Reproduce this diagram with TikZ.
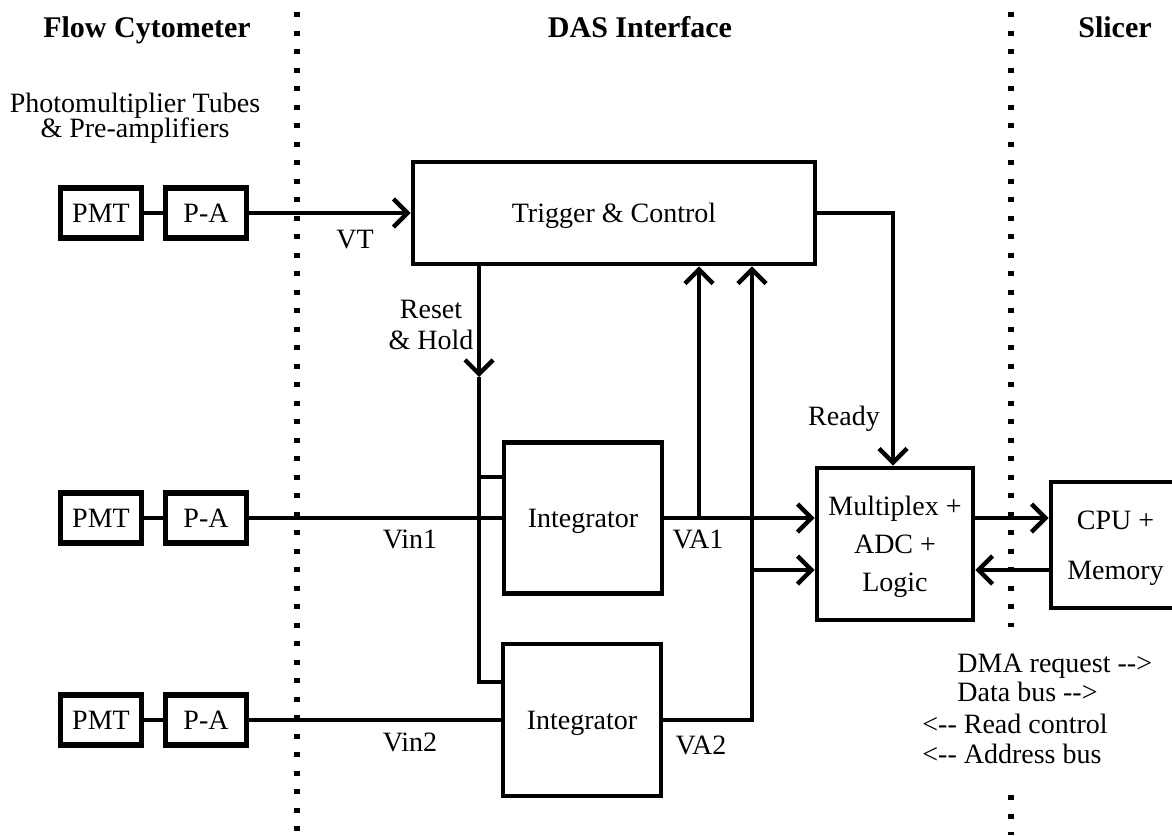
\documentclass[tikz,border=0pt]{standalone}
\usepackage{fontspec}
\setmainfont{Liberation Serif}
\usetikzlibrary{arrows.meta}
\begin{document}
\begin{tikzpicture}[x=0.5pt,y=-0.5pt,
  box/.style={draw,line width=2.4pt,inner sep=0pt,align=center,text depth=0pt,font=\fontsize{14}{16}\selectfont},
  smallbox/.style={box,line width=2.6pt,minimum width=40.5pt,minimum height=25pt},
  wire/.style={line width=2.2pt},
  arr/.style={wire,-{Straight Barb[length=7pt,width=14pt]}},
  lbl/.style={font=\fontsize{14}{16}\selectfont,inner sep=0pt,align=center},
  hdr/.style={font=\fontsize{15}{17}\selectfont\bfseries,inner sep=0pt,anchor=base},
  sep/.style={line width=3pt,dash pattern=on 2.6pt off 6.65pt}]
\useasboundingbox (0,0) rectangle (1172,835);

% headers
\node[hdr] (h1) at (147,37) {Flow Cytometer};
\node[hdr] (h2) at (640,37) {DAS Interface};
\node[hdr] (h3) at (1115,37) {Slicer};
\node[lbl,font={\fontsize{14}{12.5}\selectfont\lineskiplimit=-10pt\relax}] (pm) at (135,118) {Photomultiplier Tubes\\\& Pre-amplifiers};

% separators
\coordinate (s1a) at (297,12); \coordinate (s1b) at (297,835);
\coordinate (s2a) at (1011,12); \coordinate (s2b) at (1011,627);
\coordinate (s2c) at (1011,795); \coordinate (s2d) at (1011,835);
\draw[sep] (s1a) -- (s1b);
\draw[sep] (s2a) -- (s2b);
\draw[sep] (s2c) -- (s2d);

% PMT / P-A
\node[smallbox] (pmt1) at (101,213) {PMT};
\node[smallbox] (pa1) at (206,213) {P-A};
\node[smallbox] (pmt2) at (101,518) {PMT};
\node[smallbox] (pa2) at (206,518) {P-A};
\node[smallbox] (pmt3) at (101,720) {PMT};
\node[smallbox] (pa3) at (206,720) {P-A};
\draw[wire] (pmt1) -- (pa1);
\draw[wire] (pmt2) -- (pa2);
\draw[wire] (pmt3) -- (pa3);

% main blocks
\node[box,minimum width=201pt,minimum height=51pt] (trig) at (614,213) {Trigger \& Control};
\node[box,minimum width=79pt,minimum height=75.5pt] (int1) at (583,518) {Integrator};
\node[box,minimum width=79pt,minimum height=76pt] (int2) at (582,720) {Integrator};
\node[box,minimum width=78pt,minimum height=76pt,font=\fontsize{14}{19}\selectfont] (mux) at (895,544) {Multiplex +\\ADC +\\Logic};
\node[box,minimum width=64.5pt,minimum height=63pt,font=\fontsize{14}{25}\selectfont] (cpu) at (1115.5,545) {CPU +\\Memory};

% VT
\draw[arr] (pa1.east) -- (pa1.east -| trig.west);
\node[lbl,anchor=base] (vt) at (355,248) {VT};

% Vin
\draw[wire] (pa2.east) -- (pa2.east -| int1.west);
\node[lbl,anchor=base] (vin1) at (410,548) {Vin1};
\draw[wire] (pa3.east) -- (pa3.east -| int2.west);
\node[lbl,anchor=base] (vin2) at (410,751) {Vin2};

% Reset & Hold
\coordinate (rh) at (479,377);
\coordinate (rt) at (479,477);
\coordinate (rb) at (479,682);
\draw[arr] (trig.south -| rh) -- (rh);
\draw[wire] (rh) -- (rb) -- (rb -| int2.west);
\draw[wire] (rt) -- (rt -| int1.west);
\node[lbl,font=\fontsize{14}{15.5}\selectfont] (rhl) at (431,325) {Reset\\\& Hold};

% VA1
\coordinate (a1) at (699,518);
\draw[arr] (int1.east) -- (int1.east -| mux.west);
\draw[arr] (a1) -- (a1 |- trig.south);
\node[lbl,anchor=base] (va1) at (698,548) {VA1};

% VA2
\coordinate (v2) at (752,720);
\coordinate (j2) at (752,570);
\draw[arr] (int2.east) -- (v2) -- (v2 |- trig.south);
\draw[arr] (j2) -- (j2 -| mux.west);
\node[lbl,anchor=base] (va2) at (701,754) {VA2};

% Ready
\coordinate (rd) at (893,213);
\draw[arr] (trig.east |- rd) -- (rd) -- (rd |- mux.north);
\node[lbl,anchor=base] (rdl) at (844,425) {Ready};

% Mux <-> CPU
\coordinate (m1) at (0,518);
\coordinate (m2) at (0,570);
\draw[arr] (mux.east |- m1) -- (cpu.west |- m1);
\draw[arr] (cpu.west |- m2) -- (mux.east |- m2);

% bus notes
\node[lbl,anchor=base west] (n1) at (957,672) {DMA request -{}->};
\node[lbl,anchor=base west] (n2) at (957,701) {Data bus -{}->};
\node[lbl,anchor=base west] (n3) at (922,733) {<-{}- Read control};
\node[lbl,anchor=base west] (n4) at (922,763) {<-{}- Address bus};
\end{tikzpicture}
\end{document}
